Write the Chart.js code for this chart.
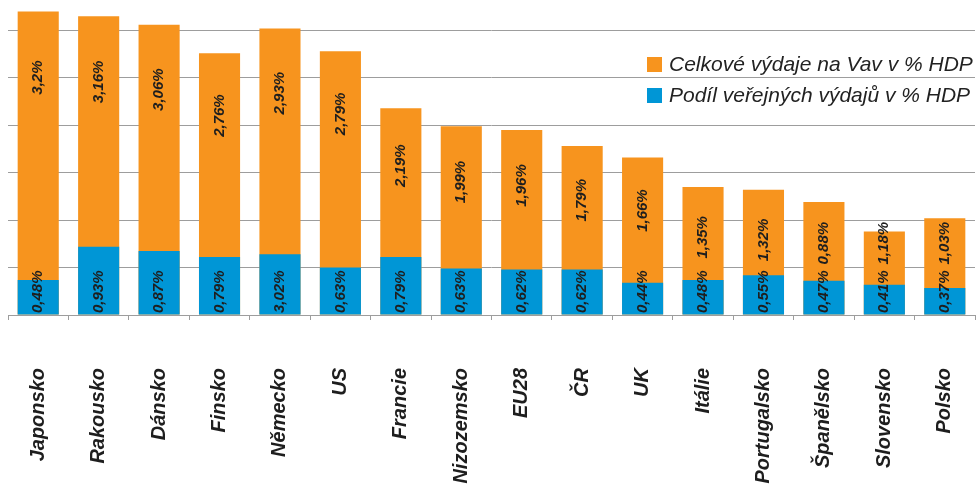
<!DOCTYPE html>
<html>
<head>
<meta charset="utf-8">
<script src="https://cdn.jsdelivr.net/npm/chart.js@4.4.1/dist/chart.umd.min.js"></script>
<style>
  html, body { margin: 0; padding: 0; background: #fff; }
  #wrap { width: 977px; height: 488px; position: relative; }
</style>
</head>
<body>
<div id="wrap"><canvas id="graf"></canvas></div>
<script>
// --- data ---
const ZEME = ['Japonsko', 'Rakousko', 'Dánsko', 'Finsko', 'Německo', 'US', 'Francie', 'Nizozemsko',
              'EU28', 'ČR', 'UK', 'Itálie', 'Portugalsko', 'Španělsko', 'Slovensko', 'Polsko'];
const CELKOVE = [3.2, 3.15, 3.06, 2.76, 3.02, 2.78, 2.18, 1.99, 1.95, 1.78, 1.66, 1.35, 1.32, 1.19, 0.88, 1.02];
const VEREJNE = [0.37, 0.72, 0.675, 0.61, 0.64, 0.5, 0.61, 0.49, 0.48, 0.48, 0.34, 0.37, 0.42, 0.36, 0.32, 0.285];
const POPISKY_CELKOVE = ['3,2%', '3,16%', '3,06%', '2,76%', '2,93%', '2,79%', '2,19%', '1,99%',
                         '1,96%', '1,79%', '1,66%', '1,35%', '1,32%', '0,88%', '1,18%', '1,03%'];
const POPISKY_VEREJNE = ['0,48%', '0,93%', '0,87%', '0,79%', '3,02%', '0,63%', '0,79%', '0,63%',
                         '0,62%', '0,62%', '0,44%', '0,48%', '0,55%', '0,47%', '0,41%', '0,37%'];
const NAZVY_RAD = ['Celkové výdaje na Vav v % HDP', 'Podíl veřejných výdajů v % HDP'];

const ORANZOVA = '#F7941E';
const MODRA = '#0096D6';
const SEDA = '#9d9d9d';
const PISMO = "'Liberation Sans', Arial, sans-serif";

// popisky hodnot, otocene o 90 stupnu
const popiskyPlugin = {
  id: 'popisky',
  afterDatasetsDraw(chart) {
    const ctx = chart.ctx;
    const y = chart.scales.y;
    const base = y.getPixelForValue(0);
    const mVer = chart.getDatasetMeta(0);
    const mCel = chart.getDatasetMeta(1);
    ctx.save();
    ctx.font = 'italic bold 15px ' + PISMO;
    ctx.fillStyle = '#1e1e1e';
    ctx.textBaseline = 'middle';
    mVer.data.forEach((bar, i) => {
      // verejne: od zakladny nahoru
      const w1 = ctx.measureText(POPISKY_VEREJNE[i]).width;
      ctx.save();
      ctx.translate(bar.x, base - 2);
      ctx.rotate(-Math.PI / 2);
      ctx.textAlign = 'left';
      ctx.fillText(POPISKY_VEREJNE[i], 0, 0);
      ctx.restore();
      // celkove: v horni casti sloupce
      const w2 = ctx.measureText(POPISKY_CELKOVE[i]).width;
      let stred = y.getPixelForValue(0.91 * CELKOVE[i] - 0.41);
      const limit = base - 2 - w1 - 6 - w2 / 2;
      if (stred > limit) stred = limit;
      ctx.save();
      ctx.translate(mCel.data[i].x, stred);
      ctx.rotate(-Math.PI / 2);
      ctx.textAlign = 'center';
      ctx.fillText(POPISKY_CELKOVE[i], 0, 0);
      ctx.restore();
    });
    ctx.restore();
  },
  afterDraw(chart) {
    // legenda v prave horni casti
    const ctx = chart.ctx;
    const barvy = [ORANZOVA, MODRA];
    ctx.save();
    ctx.font = 'italic 21px ' + PISMO;
    ctx.textBaseline = 'middle';
    ctx.textAlign = 'left';
    NAZVY_RAD.forEach((t, i) => {
      const yy = 64.5 + i * 31;
      ctx.fillStyle = barvy[i];
      ctx.fillRect(647, yy - 7.5, 15, 15);
      ctx.fillStyle = '#222';
      ctx.fillText(t, 669, yy + 1);
    });
    ctx.restore();
  }
};

new Chart(document.getElementById('graf'), {
  type: 'bar',
  data: {
    labels: ZEME,
    datasets: [
      { label: NAZVY_RAD[1], data: VEREJNE, backgroundColor: MODRA, barPercentage: 0.68, categoryPercentage: 1 },
      { label: NAZVY_RAD[0], data: CELKOVE, backgroundColor: ORANZOVA, barPercentage: 0.68, categoryPercentage: 1 }
    ]
  },
  options: {
    responsive: true,
    maintainAspectRatio: false,
    animation: false,
    layout: { padding: { left: 0, right: 2, top: 0, bottom: 0 } },
    plugins: { legend: { display: false }, tooltip: { enabled: false } },
    scales: {
      x: {
        stacked: true,
        border: { display: true, color: SEDA },
        grid: { drawOnChartArea: false, drawTicks: true, tickLength: 5, color: SEDA, offset: true },
        ticks: {
          minRotation: 90, maxRotation: 90, autoSkip: false, padding: 48,
          color: '#1e1e1e', font: { family: PISMO, size: 20, weight: 'bold', style: 'italic' }
        },
        afterFit: (s) => { s.height = 173; s.paddingLeft = 0; s.paddingRight = 0; }
      },
      y: {
        stacked: false,
        min: 0, max: 3.32,
        border: { display: false },
        grid: {
          drawTicks: false, lineWidth: 1,
          color: (c) => (Math.abs(c.tick.value * 2 - Math.round(c.tick.value * 2)) < 1e-6 ? SEDA : 'rgba(0,0,0,0)')
        },
        ticks: { display: false, stepSize: 0.5 },
        afterFit: (s) => { s.width = 8; s.paddingTop = 0; s.paddingBottom = 0; }
      }
    }
  },
  plugins: [popiskyPlugin]
});
</script>
</body>
</html>
